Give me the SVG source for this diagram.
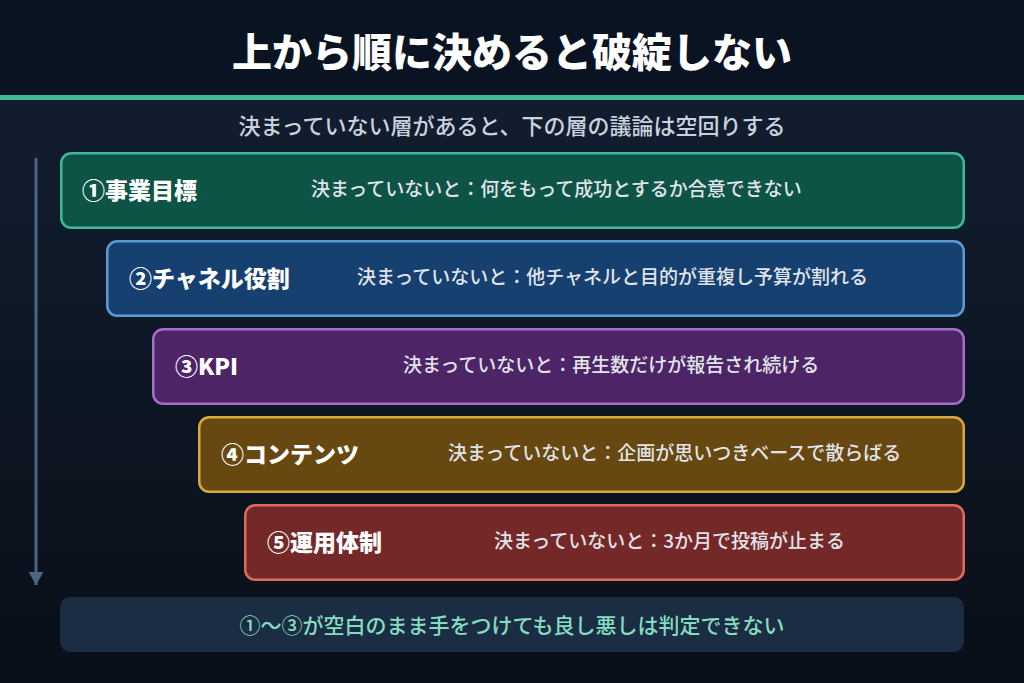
<svg xmlns="http://www.w3.org/2000/svg" width="1024" height="683" viewBox="0 0 1024 683">
  <defs>
    <linearGradient id="bg" x1="0" y1="0" x2="0" y2="1">
      <stop offset="0" stop-color="#132033"/>
      <stop offset="1" stop-color="#090f18"/>
    </linearGradient>
    <marker id="ah" viewBox="0 0 13 15" refX="13" refY="7.5" markerWidth="13" markerHeight="15" markerUnits="userSpaceOnUse" orient="auto">
      <path d="M0,0 L13,7.5 L0,15 Z" fill="#4c6585"/>
    </marker>
    <style>
      text { font-family: "Noto Sans CJK JP", "Noto Sans", sans-serif; }
      .title { font-size: 40px; font-weight: 900; fill: #ffffff; }
      .sub { font-size: 22px; font-weight: 500; fill: #c9d3de; }
      .lbl { font-size: 23px; font-weight: 900; fill: #ffffff; }
      .desc { font-size: 19px; font-weight: 500; fill: #e0e4ea; }
      .box { stroke-width: 2.5; }
      .foot { font-size: 21px; font-weight: 500; fill: #86dcc2; }
    </style>
  </defs>
  <rect width="1024" height="683" fill="url(#bg)"/>
  <rect width="1024" height="95" fill="#0a1321"/>
  <rect y="95" width="1024" height="5" fill="#3fb89a"/>
  <text class="title" x="512" y="67" text-anchor="middle">上から順に決めると破綻しない</text>
  <text class="sub" x="512" y="134" text-anchor="middle">決まっていない層があると、下の層の議論は空回りする</text>

  <g id="connectors">
    <line x1="36" y1="158" x2="36" y2="585" stroke="#4c6585" stroke-width="3" marker-end="url(#ah)"/>
  </g>

  <g id="node1">
    <rect class="box" x="61.25" y="153.25" width="902.5" height="74.5" rx="10" fill="#0e5446" stroke="#3fb89a"/>
    <text class="lbl" x="82" y="199">①事業目標</text>
    <text class="desc" x="311" y="196">決まっていないと：何をもって成功とするか合意できない</text>
  </g>
  <g id="node2">
    <rect class="box" x="107.25" y="241.25" width="856.5" height="74.5" rx="10" fill="#164070" stroke="#5b9bd5"/>
    <text class="lbl" x="129" y="287">②チャネル役割</text>
    <text class="desc" x="357" y="284">決まっていないと：他チャネルと目的が重複し予算が割れる</text>
  </g>
  <g id="node3">
    <rect class="box" x="153.25" y="329.25" width="810.5" height="74.5" rx="10" fill="#4d2566" stroke="#a56fc9"/>
    <text class="lbl" x="175" y="375">③KPI</text>
    <text class="desc" x="403" y="372">決まっていないと：再生数だけが報告され続ける</text>
  </g>
  <g id="node4">
    <rect class="box" x="199.25" y="417.25" width="764.5" height="74.5" rx="10" fill="#664810" stroke="#d9a83e"/>
    <text class="lbl" x="221" y="463">④コンテンツ</text>
    <text class="desc" x="448" y="460">決まっていないと：企画が思いつきベースで散らばる</text>
  </g>
  <g id="node5">
    <rect class="box" x="245.25" y="505.25" width="718.5" height="74.5" rx="10" fill="#752828" stroke="#de6b5c"/>
    <text class="lbl" x="267" y="551">⑤運用体制</text>
    <text class="desc" x="494" y="548">決まっていないと：3か月で投稿が止まる</text>
  </g>
  <g id="footer">
    <rect x="60" y="597" width="904" height="55" rx="10" fill="#1b2d42"/>
    <text class="foot" x="512" y="633" text-anchor="middle">①〜③が空白のまま手をつけても良し悪しは判定できない</text>
  </g>
</svg>
